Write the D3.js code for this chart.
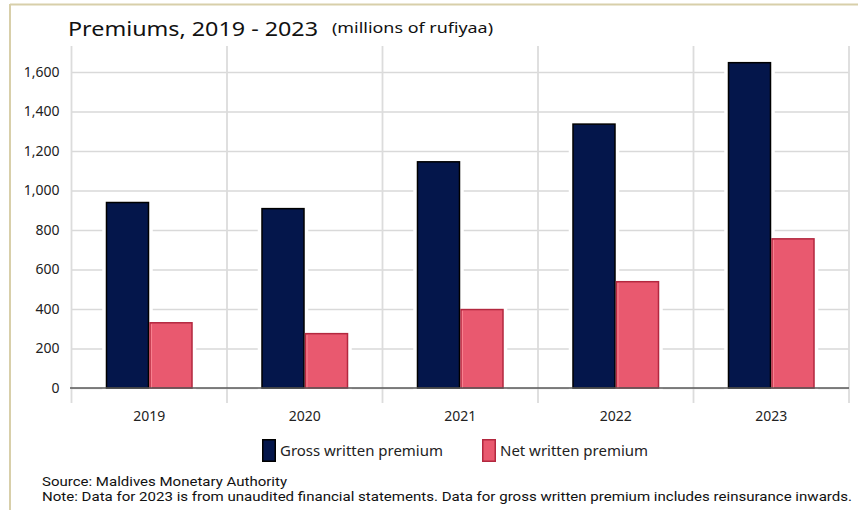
<!DOCTYPE html>
<html>
<head>
<meta charset="utf-8">
<script src="https://cdn.jsdelivr.net/npm/d3@7"></script>
<style>
  html, body { margin: 0; padding: 0; background: #fff; }
  svg { display: block; font-family: "Noto Sans", "Open Sans", sans-serif; }
</style>
</head>
<body>
<svg id="chart" width="858" height="510"></svg>
<script>
// Premiums by year, millions of rufiyaa
const years = ["2019", "2020", "2021", "2022", "2023"];
const grossWritten = [943, 912, 1149, 1340, 1651];
const netWritten = [334, 279, 401, 542, 759];
const yTicks = [0, 200, 400, 600, 800, 1000, 1200, 1400, 1600];
const seriesNames = ["Gross written premium", "Net written premium"];
const seriesColors = ["#04164b", "#e9596f"];
const seriesStrokes = ["#000000", "#b3283f"];

const svg = d3.select("#chart");
const W = 858, H = 510;
const plotL = 71.5, plotR = 849, plotT = 72, plotB = 388;

// frame lines
svg.append("line").attr("x1", 10).attr("x2", W).attr("y1", 4.5).attr("y2", 4.5)
  .attr("stroke", "#d8cfaa").attr("stroke-width", 2);
svg.append("line").attr("x1", 10).attr("x2", 10).attr("y1", 4).attr("y2", H)
  .attr("stroke", "#d8cfaa").attr("stroke-width", 2);

// title
svg.append("text").attr("x", 68).attr("y", 36)
  .attr("font-size", 20).attr("fill", "#111")
  .attr("textLength", 250).attr("lengthAdjust", "spacingAndGlyphs")
  .text("Premiums, 2019 - 2023");
svg.append("text").attr("x", 332).attr("y", 33)
  .attr("font-size", 15).attr("fill", "#111")
  .attr("textLength", 161).attr("lengthAdjust", "spacingAndGlyphs")
  .text("(millions of rufiyaa)");

const x = d3.scaleBand().domain(years).range([plotL, plotR]).paddingInner(0).paddingOuter(0);
const xs = d3.scaleBand().domain(seriesNames).range([0, x.bandwidth()]).paddingInner(0).paddingOuter(0.787);
const y = d3.scaleLinear().domain([0, 1600]).range([plotB, plotT]);

// horizontal gridlines + y labels
const yAxis = svg.append("g").attr("transform", `translate(${plotL},0)`)
  .call(d3.axisLeft(y).tickValues(yTicks).tickFormat(d3.format(",")).tickSize(-(plotR - plotL)).tickPadding(12));
yAxis.select(".domain").remove();
yAxis.selectAll(".tick line").attr("stroke", "#d9d9d9").attr("stroke-width", 1.5);
yAxis.selectAll(".tick text").attr("font-size", 14).attr("fill", "#222")
  .attr("font-family", "\"Noto Sans\", sans-serif");

// vertical gridlines at category boundaries
const bounds = years.map(d => x(d)).concat([x(years[years.length - 1]) + x.bandwidth()]);
svg.append("g").selectAll("line").data(bounds).join("line")
  .attr("x1", d => d).attr("x2", d => d).attr("y1", 46).attr("y2", 403)
  .attr("stroke", "#dcdcdc").attr("stroke-width", 1.8);

// bars
const rows = years.map((yr, i) => ({ year: yr, values: [grossWritten[i], netWritten[i]] }));
const groups = svg.append("g").selectAll("g").data(rows).join("g")
  .attr("transform", d => `translate(${x(d.year)},0)`);

// white halo behind bars
groups.selectAll("rect.halo").data(d => d.values.map((v, k) => ({ v, k })))
  .join("rect").attr("class", "halo")
  .attr("x", d => xs(seriesNames[d.k]))
  .attr("y", d => y(d.v))
  .attr("width", xs.bandwidth())
  .attr("height", d => plotB - y(d.v))
  .attr("fill", "#fff").attr("stroke", "#fff").attr("stroke-width", 7);

groups.selectAll("rect.bar").data(d => d.values.map((v, k) => ({ v, k })))
  .join("rect").attr("class", "bar")
  .attr("x", d => xs(seriesNames[d.k]) + 0.75)
  .attr("y", d => y(d.v) + 0.75)
  .attr("width", xs.bandwidth() - 1.5)
  .attr("height", d => plotB - y(d.v) - 0.75)
  .attr("fill", d => seriesColors[d.k])
  .attr("stroke", d => seriesStrokes[d.k]).attr("stroke-width", 1.5);

// subtle highlight on the left edge of the net bars
groups.selectAll("line.hl").data(d => [{ v: d.values[1], k: 1 }])
  .join("line").attr("class", "hl")
  .attr("x1", d => xs(seriesNames[d.k]) + 2.2).attr("x2", d => xs(seriesNames[d.k]) + 2.2)
  .attr("y1", d => y(d.v) + 2).attr("y2", plotB)
  .attr("stroke", "#f7808f").attr("stroke-width", 1.2);

// baseline
svg.append("line").attr("x1", 70).attr("x2", plotR).attr("y1", plotB).attr("y2", plotB)
  .attr("stroke", "#595959").attr("stroke-width", 1.3);

// x labels
const xAxis = svg.append("g").attr("transform", `translate(0,${plotB})`)
  .call(d3.axisBottom(x).tickSize(0).tickPadding(23));
xAxis.select(".domain").remove();
xAxis.selectAll(".tick text").attr("font-size", 14).attr("fill", "#222")
  .attr("font-family", "\"Noto Sans\", sans-serif");

// legend
const legendX = [262, 482];
const legendTextW = [163, 148];
seriesNames.forEach((name, k) => {
  svg.append("rect").attr("x", legendX[k] + 0.75).attr("y", 439.75)
    .attr("width", 12.5).attr("height", 21.5)
    .attr("fill", seriesColors[k]).attr("stroke", seriesStrokes[k]).attr("stroke-width", 1.5);
  svg.append("text").attr("x", legendX[k] + 18).attr("y", 456)
    .attr("font-size", 15).attr("fill", "#222")
    .attr("textLength", legendTextW[k]).attr("lengthAdjust", "spacingAndGlyphs")
    .text(name);
});

// source and note
const footer = svg.append("g").attr("font-family", "Roboto, sans-serif").attr("font-size", 13).attr("fill", "#111");
footer.append("text").attr("x", 42).attr("y", 486)
  .attr("textLength", 245).attr("lengthAdjust", "spacingAndGlyphs")
  .text("Source: Maldives Monetary Authority");
footer.append("text").attr("x", 42).attr("y", 501)
  .attr("textLength", 810).attr("lengthAdjust", "spacingAndGlyphs")
  .text("Note: Data for 2023 is from unaudited financial statements. Data for gross written premium includes reinsurance inwards.");
</script>
</body>
</html>
